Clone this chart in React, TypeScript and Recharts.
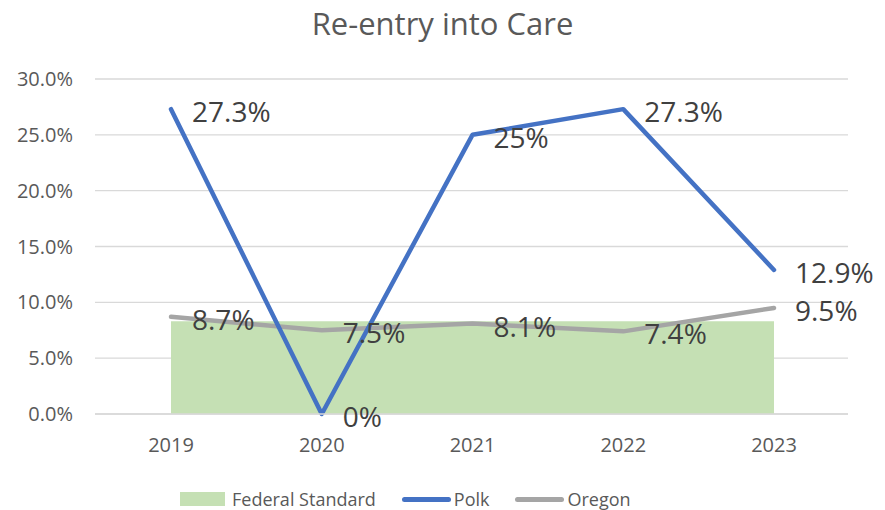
import React from 'react';
import {
  ComposedChart,
  Area,
  Line,
  XAxis,
  YAxis,
  CartesianGrid,
  Legend,
  LabelList,
} from 'recharts';

const years = ['2019', '2020', '2021', '2022', '2023'];
const federalStandard = [8.3, 8.3, 8.3, 8.3, 8.3];
const polk = [27.3, 0, 25, 27.3, 12.9];
const oregon = [8.7, 7.5, 8.1, 7.4, 9.5];
const yTicks = [0, 5, 10, 15, 20, 25, 30];

const title = 'Re-entry into Care';
const FONT = '"Open Sans", "Noto Sans", sans-serif';

const COLORS = {
  fed: '#C5E0B4',
  polk: '#4472C4',
  oregon: '#A5A5A5',
  tick: '#595959',
  label: '#404040',
  grid: '#D9D9D9',
};

const data = years.map((year, i) => ({
  year,
  fed: federalStandard[i],
  polk: polk[i],
  oregon: oregon[i],
}));

const legendItems = [
  { name: 'Federal Standard', color: COLORS.fed, kind: 'rect' },
  { name: 'Polk', color: COLORS.polk, kind: 'line' },
  { name: 'Oregon', color: COLORS.oregon, kind: 'line' },
];

const DataLabel = (props: any) => {
  const { x, y, value } = props;
  if (x == null || y == null) return null;
  return (
    <text
      x={x + 21}
      y={y + 2}
      dominantBaseline="central"
      textAnchor="start"
      fontSize={28}
      fontFamily={FONT}
      fill={COLORS.label}
    >
      {`${value}%`}
    </text>
  );
};

const renderLegend = () => (
  <div
    style={{
      display: 'flex',
      alignItems: 'center',
      height: 30,
      paddingLeft: 180,
      fontFamily: FONT,
      fontSize: 18,
      color: COLORS.tick,
      lineHeight: '30px',
      whiteSpace: 'nowrap',
    }}
  >
    {legendItems.map((it, i) => (
      <div
        key={it.name}
        style={{ display: 'flex', alignItems: 'center', marginLeft: i === 0 ? 0 : 26 }}
      >
        {it.kind === 'rect' ? (
          <span style={{ display: 'inline-block', width: 45, height: 14, background: it.color, marginRight: 7 }} />
        ) : (
          <span
            style={{
              display: 'inline-block',
              width: 49,
              height: 5,
              borderRadius: 3,
              background: it.color,
              marginRight: 3,
            }}
          />
        )}
        <span>{it.name}</span>
      </div>
    ))}
  </div>
);

export default function App() {
  return (
    <div style={{ position: 'absolute', left: 0, top: 0, width: 885, height: 510, background: '#fff' }}>
      <div
        style={{
          position: 'absolute',
          top: 3,
          left: 0,
          width: 885,
          textAlign: 'center',
          fontFamily: FONT,
          fontSize: 31,
          lineHeight: '40px',
          color: COLORS.tick,
          zIndex: 2,
        }}
      >
        {title}
      </div>
      <ComposedChart
        width={885}
        height={510}
        data={data}
        margin={{ top: 79, right: 37, bottom: 66, left: 0 }}
      >
        <CartesianGrid vertical={false} stroke={COLORS.grid} strokeWidth={1.3} />
        <XAxis
          dataKey="year"
          scale="point"
          padding={{ left: 76, right: 74 }}
          height={30}
          axisLine={{ stroke: COLORS.grid, strokeWidth: 1.3 }}
          tickLine={false}
          tickSize={6}
          tickMargin={18}
          tick={{ fill: COLORS.tick, fontSize: 20, fontFamily: FONT }}
        />
        <YAxis
          domain={[0, 30]}
          ticks={yTicks}
          width={95}
          axisLine={false}
          tickLine={false}
          tickSize={6}
          tickMargin={16}
          tickFormatter={(v: number) => `${v.toFixed(1)}%`}
          tick={{ fill: COLORS.tick, fontSize: 20, fontFamily: FONT }}
        />
        <Area
          type="linear"
          dataKey="fed"
          name="Federal Standard"
          fill={COLORS.fed}
          fillOpacity={1}
          stroke="none"
          isAnimationActive={false}
          activeDot={false}
        />
        <Line
          type="linear"
          dataKey="oregon"
          name="Oregon"
          stroke={COLORS.oregon}
          strokeWidth={4.5}
          strokeLinecap="round"
          strokeLinejoin="round"
          dot={false}
          activeDot={false}
          isAnimationActive={false}
        />
        <Line
          type="linear"
          dataKey="polk"
          name="Polk"
          stroke={COLORS.polk}
          strokeWidth={4.5}
          strokeLinecap="round"
          strokeLinejoin="round"
          dot={false}
          activeDot={false}
          isAnimationActive={false}
        />
        <Line
          dataKey="polk"
          stroke="none"
          dot={false}
          activeDot={false}
          legendType="none"
          isAnimationActive={false}
        >
          <LabelList dataKey="polk" content={DataLabel} />
        </Line>
        <Line
          dataKey="oregon"
          stroke="none"
          dot={false}
          activeDot={false}
          legendType="none"
          isAnimationActive={false}
        >
          <LabelList dataKey="oregon" content={DataLabel} />
        </Line>
        <Legend
          layout="horizontal"
          verticalAlign="middle"
          align="center"
          content={renderLegend}
          wrapperStyle={{ top: 484, left: 0, width: 885 }}
        />
      </ComposedChart>
    </div>
  );
}
